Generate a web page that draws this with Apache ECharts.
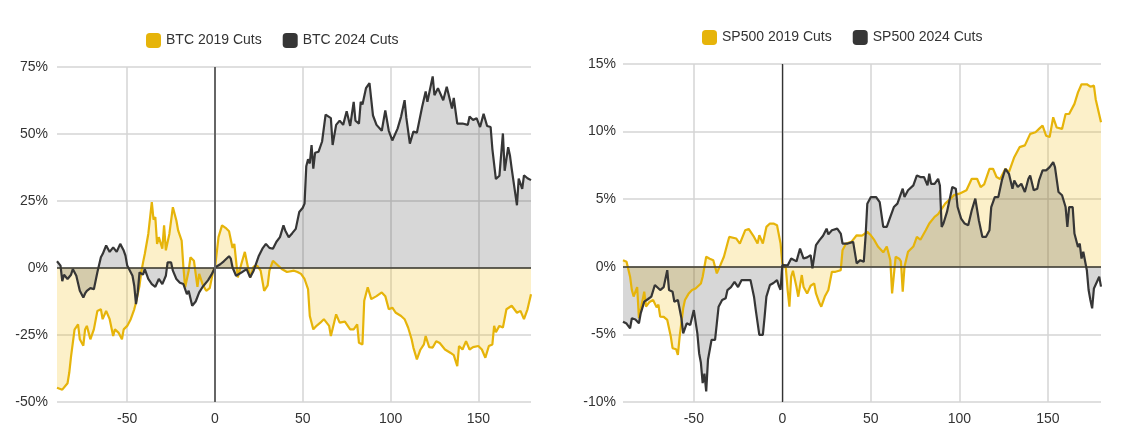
<!DOCTYPE html>
<html>
<head>
<meta charset="utf-8">
<script src="https://cdn.jsdelivr.net/npm/echarts@6/dist/echarts.min.js"></script>
<style>html,body{margin:0;padding:0;background:#fff;}#chart{width:1126px;height:447px;}</style>
</head>
<body>
<div id="chart"></div>
<script>
// ---------- DATA ----------
const xTicks = [-50, 0, 50, 100, 150];
const seriesNames = ['BTC 2019 Cuts', 'BTC 2024 Cuts', 'SP500 2019 Cuts', 'SP500 2024 Cuts'];

const btc2019Days = [-90,-87,-84,-83,-82,-80,-78,-77,-75,-74,-73,-71,-69,-67,-65,-64,-62,-61,-60,-58,-57,-55,-53,-52,-50,-48,-46,-45,-43,-42,-41,-40,-38,-36,-35,-34,-33,-32,-30,-29,-28,-26,-24,-22,-21,-19,-18,-17,-15,-14,-12,-11,-10,-9,-7,-5,-3,-1,0,2,4,6,8,10,11,13,14,15,17,18,20,22,24,26,28,30,31,33,35,38,41,45,47,49,51,53,54,56,58,60,62,65,66,68,69,71,74,77,79,81,82,84,85,87,89,92,95,97,99,101,103,106,108,110,112,113,115,117,119,120,122,124,126,128,131,134,136,138,139,141,143,145,147,150,152,154,156,158,159,160,162,164,166,169,172,174,176,177,178,180];
const btc2019Vals = [-44.7,-45.4,-43,-39,-33,-23,-21,-26.6,-29,-22.9,-21.6,-26.6,-22.9,-16,-15.4,-19.1,-16,-15.4,-19.1,-25.4,-22.9,-24.1,-26.6,-22.9,-21.6,-19.1,-15.4,-12.9,-6.6,-1.6,2,5.2,12.7,24.6,18,19,9,11.5,7.2,15.9,6.6,12.7,22.7,17.7,14,10.2,0.3,-7.2,-1,4,2.7,-2.2,-7,-2.2,-6.2,-8.5,-7.5,-1,0,11.5,15.9,15,13.7,7.5,9,-3.5,-1,1.5,6,2.7,-3.5,0.5,0.9,-1,-8.5,-6.5,-1,2.7,1.5,-0.4,-1.5,-1,-1.5,-2.2,-4.1,-7.9,-17.9,-22.9,-21.5,-20.4,-19.1,-21.6,-25.4,-20,-17.3,-20.4,-20,-22.9,-22.9,-21,-27.9,-28.5,-12.2,-7.2,-11.6,-10.5,-9.1,-10.5,-15.4,-14.8,-16.7,-17.9,-19.1,-22.2,-26.6,-29.7,-34.1,-30.5,-28.5,-25.4,-29.5,-29.7,-27.3,-28,-30.4,-31.6,-32.5,-36.6,-29.1,-30.4,-27.3,-30.4,-29.5,-29.1,-30.4,-33.5,-29.1,-28.5,-21.6,-24,-21.6,-22.2,-15.4,-14.1,-16.7,-16,-19.1,-19.5,-15.4,-9.8];

const btc2024Days = [-90,-88,-87,-86,-84,-82,-81,-79,-77,-75,-74,-73,-71,-69,-67,-65,-64,-62,-60,-58,-56,-54,-52,-51,-50,-47,-46,-45,-44,-43,-41,-40,-38,-36,-34,-32,-30,-28,-27,-25,-24,-22,-20,-18,-16,-15,-13,-11,-9,-7,-6,-4,-2,0,3,5,8,9,10,12,15,18,20,22,25,27,29,30,31,33,35,37,39,40,42,44,46,48,50,51,52,53,54,55,56,57,59,61,63,64,66,67,69,71,73,75,77,79,80,82,83,84,86,88,90,92,95,97,99,101,104,106,108,109,111,113,115,118,120,121,124,125,127,130,132,135,136,138,141,144,145,147,149,151,153,155,157,158,160,162,164,165,167,168,169,172,173,175,176,178,180];
const btc2024Vals = [2.5,0.9,-4.9,-2.5,-4.1,-2.5,-0.4,-2.9,-8.5,-11,-9.5,-8.5,-7.5,-7.9,-1.6,4,5.2,8.4,6,7.7,6,9,6.5,4.6,0.9,-2.9,-6.6,-13.5,-9.1,-1.6,-2.5,-0.4,-4.1,-6,-7,-4.1,-6,-2.9,2.1,2.1,-1,-4.1,-5.5,-6,-9.8,-8.5,-14.1,-12.5,-9.1,-7,-6.6,-4.6,-2.5,0.2,1.4,2.5,4.4,3.5,0.2,-2.9,-1.7,-0.4,-3.5,-1,4.6,7.2,9,8.4,7.5,7.2,9.8,11.5,15.9,14,11.5,13,14.6,20.9,22.5,24,38,40.6,39,45.9,37.1,43,43.4,47.2,57.2,57.5,55.9,45.9,53.4,55,53.4,58.5,53,62,55,53.9,62,61,67.1,69,56.9,53.4,51.2,58.8,51.2,47.6,52,56.5,62.6,56,46.4,50.9,50.5,60.2,65.9,62,71.5,64.5,67.1,62.6,67.6,59.5,63.5,53.9,53.9,53.4,56.5,55.2,55.9,52.6,57.5,53,52.6,44.4,33.2,34.4,50.2,36.3,45.1,42,37.1,23.4,33.4,29.5,34.6,33.5,32.8];

const sp2019Days = [-90,-88,-86,-85,-84,-82,-81,-79,-78,-77,-75,-73,-71,-70,-69,-67,-65,-63,-62,-60,-59,-58,-56,-55,-53,-51,-49,-46,-45,-43,-41,-39,-37,-35,-33,-31,-30,-26,-24,-21,-19,-16,-14,-13,-11,-9,-7,-5,-3,-1,0,2,3,4,5,6,8,9,11,12,14,16,18,19,21,22,24,26,28,30,33,34,36,39,42,45,48,50,52,54,57,59,61,62,64,66,67,68,69,71,74,76,78,81,83,86,88,92,95,97,100,104,107,110,112,114,117,119,121,123,126,128,131,134,137,140,143,145,147,149,151,153,155,158,160,162,165,166,167,169,172,174,176,177,178,180];
const sp2019Vals = [0.49,0.37,-0.73,-1.72,-2.2,-1.5,-3.8,-2.5,-1.84,-2.95,-2.6,-2.46,-3,-2.8,-3.68,-3.7,-3.93,-5.16,-6.02,-6.1,-6.51,-5.16,-3.07,-2.46,-2,-1.72,-1.6,-1.23,-0.74,0.74,0.6,0.49,-0.49,0.12,0.74,1.72,2.21,2.09,1.72,2.7,2.8,2.21,1.72,2.33,1.72,2.95,3.2,3.2,3.07,1.72,0.25,-0.12,-1.72,-2.95,-0.74,-0.3,-1.5,-2.21,-0.61,-1.5,-1.97,-1.4,-1.23,-1.97,-2.7,-2.95,-2.2,-1.72,-0.37,-0.37,-0.25,1.23,1.72,1.84,2.33,2.3,2.58,2.33,1.97,1.5,1.07,1.5,0.49,-1.97,0.74,0.6,0.4,-1.84,0,1.11,1.5,2.21,2,2.7,3.2,3.69,3.9,4.67,5.04,5.3,5.41,5.66,6.51,6.51,5.9,6.1,7.25,7.25,6.64,6.5,7.25,7,8.11,8.85,8.98,9.83,9.95,10.2,10.45,9.7,9.6,11.06,10.3,10.2,11.3,11.3,12.05,12.05,12.9,13.5,13.5,13.32,13.4,12.4,12.3,10.7];

const sp2024Days = [-90,-88,-86,-85,-83,-81,-80,-78,-76,-74,-72,-71,-69,-67,-65,-64,-62,-61,-59,-57,-56,-54,-52,-50,-48,-47,-46,-45,-44,-43,-42,-40,-38,-37,-36,-34,-32,-31,-29,-27,-25,-23,-20,-18,-16,-15,-13,-11,-10,-9,-7,-5,-3,-2,-1,0,1,3,5,8,10,12,14,16,17,19,21,23,25,26,28,31,33,34,37,40,42,44,46,47,48,50,53,55,57,59,61,63,65,66,68,69,71,74,76,78,80,82,83,84,86,88,89,90,91,93,96,98,99,101,103,105,107,108,109,111,113,115,117,118,120,122,124,126,128,129,130,131,133,135,137,139,140,142,144,145,147,149,151,153,154,156,158,160,161,162,164,165,167,168,169,170,171,172,173,174,175,176,177,179,180];
const sp2024Vals = [-4.06,-4.2,-4.55,-3.81,-3.9,-4.18,-3.44,-2.58,-2.4,-2.21,-1.35,-1.25,-1.72,-1.5,-0.25,-1.72,-1.85,-2.58,-2.46,-3.81,-4.92,-4.18,-4.3,-3.2,-4.92,-6.39,-7.1,-8.6,-7.9,-9.22,-6.88,-5.41,-5.41,-4.18,-2.95,-2.46,-2.33,-1.72,-1.5,-1.11,-1.5,-0.98,-0.98,-0.98,-2.21,-3.2,-5.04,-5.04,-3.69,-2.21,-1.35,-1.2,-0.98,-1.4,-1.7,0.12,0.25,0.1,0.61,0.4,1.35,0.61,0.7,0.86,-0.12,1.6,1.97,2.3,2.82,2.4,2.7,2.82,2.46,1.72,1.72,1.84,0.25,0.49,0.37,2.21,4.67,5.16,5.16,4.79,2.95,2.95,3.69,4.42,4.67,5.04,5.78,5.16,5.66,6.02,6.76,6.64,6.64,6.02,6.88,6.14,6.14,6.51,6.02,2.95,3.2,4.06,5.9,5.78,4.42,3.56,3.2,3.07,4.18,4.3,5.04,3.44,2.21,2.21,2.7,4.42,5.16,5.16,6.39,7.25,6.88,7,5.78,6.39,5.9,6.14,5.53,6.51,6.76,5.66,5.78,6.39,7.13,7.13,7.37,7.74,7.37,5.53,5.29,4.42,2.95,4.42,4.42,2.46,1.47,1.72,0.61,1.11,1.11,-0.25,-1.72,-2.46,-3.07,-1.6,-1.72,-0.74,-1.47];

// ---------- CHART ----------
function zip(a, b) { return a.map((d, i) => [d, b[i]]); }

const YELLOW = '#e6b40a';
const DARK = '#363636';
const FONT = "'Liberation Sans', Arial, sans-serif";
const TXT = '#333';
const YFILL = 'rgba(242,192,30,0.34)';
const GFILL = 'rgba(40,40,40,0.27)';

function xAxisCfg(gridIndex) {
  return {
    type: 'value', gridIndex, min: -90, max: 180,
    axisLine: { show: false },
    axisTick: { show: false, customValues: xTicks },
    axisLabel: { customValues: xTicks, color: TXT, fontSize: 14, fontFamily: FONT, margin: 10 },
    splitLine: { show: true, lineStyle: { color: '#d4d4d4', width: 1.5 } }
  };
}
function yAxisCfg(gridIndex, min, max, interval, margin) {
  return {
    type: 'value', gridIndex, min, max, interval,
    axisLine: { show: false }, axisTick: { show: false },
    axisLabel: { formatter: '{value}%', color: TXT, fontSize: 14, fontFamily: FONT, margin },
    splitLine: { show: true, lineStyle: { color: '#d4d4d4', width: 1.5 } }
  };
}
function lineSeries(name, idx, data, color, fill, zeroLines) {
  const s = {
    name, type: 'line', xAxisIndex: idx, yAxisIndex: idx, data,
    showSymbol: false, symbol: 'none',
    lineStyle: { color, width: 2.2 },
    itemStyle: { color },
    areaStyle: { color: fill, origin: 'auto' }
  };
  if (zeroLines) {
    s.markLine = {
      silent: true, symbol: 'none', animation: false,
      label: { show: false },
      data: [
        { yAxis: 0, lineStyle: { color: '#3a382f', width: 1.5, type: 'solid' } },
        { xAxis: 0, lineStyle: { color: zeroLines, width: idx === 0 ? 2 : 1.3, type: 'solid' } }
      ]
    };
  }
  return s;
}

const chart = echarts.init(document.getElementById('chart'), null, { renderer: 'canvas' });
chart.setOption({
  animation: false,
  backgroundColor: '#fff',
  textStyle: { fontFamily: FONT },
  legend: [
    { data: [seriesNames[0], seriesNames[1]], left: 141, top: 28, icon: 'roundRect', itemWidth: 15, itemHeight: 15, itemGap: 21,
      textStyle: { color: TXT, fontSize: 14, fontFamily: FONT } },
    { data: [seriesNames[2], seriesNames[3]], left: 697, top: 25, icon: 'roundRect', itemWidth: 15, itemHeight: 15, itemGap: 21,
      textStyle: { color: TXT, fontSize: 14, fontFamily: FONT } }
  ],
  grid: [
    { left: 57, top: 67, width: 474, height: 335 },
    { left: 623, top: 64, width: 478, height: 338 }
  ],
  xAxis: [xAxisCfg(0), xAxisCfg(1)],
  yAxis: [yAxisCfg(0, -50, 75, 25, 9), yAxisCfg(1, -10, 15, 5, 7)],
  series: [
    lineSeries(seriesNames[0], 0, zip(btc2019Days, btc2019Vals), YELLOW, YFILL),
    lineSeries(seriesNames[1], 0, zip(btc2024Days, btc2024Vals), DARK, GFILL, '#666'),
    lineSeries(seriesNames[2], 1, zip(sp2019Days, sp2019Vals), YELLOW, YFILL),
    lineSeries(seriesNames[3], 1, zip(sp2024Days, sp2024Vals), DARK, GFILL, '#333')
  ]
});
</script>
</body>
</html>
